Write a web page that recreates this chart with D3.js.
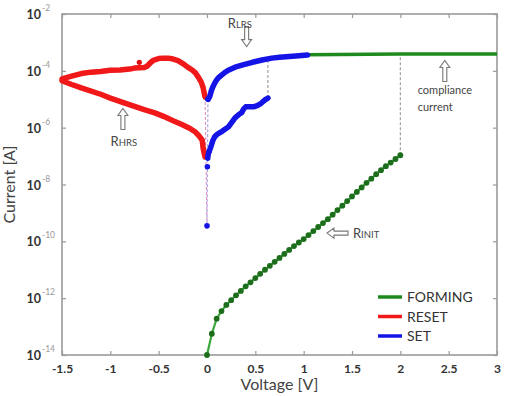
<!DOCTYPE html>
<html><head><meta charset="utf-8">
<script src="https://cdn.jsdelivr.net/npm/d3@7"></script>
<style>body{margin:0;background:#fff;} text{font-family:Lato,"Open Sans",sans-serif;}</style>
</head><body><svg id="c" width="506" height="396"></svg>
<script>
// ---- data ----
const formingV = [0,0.05,0.1,0.15,0.2,0.25,0.3,0.35,0.4,0.45,0.5,0.55,0.6,0.65,0.7,0.75,0.8,0.85,0.9,0.95,1.0,1.05,1.1,1.15,1.2,1.25,1.3,1.35,1.4,1.45,1.5,1.55,1.6,1.65,1.7,1.75,1.8,1.85,1.9,1.95,2.0];
const formingI = [1e-14,5.6e-14,1.9e-13,3.5e-13,5.8e-13,8.5e-13,1.26e-12,1.8e-12,2.6e-12,3.6e-12,5.1e-12,7.2e-12,1.0e-11,1.38e-11,1.9e-11,2.6e-11,3.6e-11,5.0e-11,6.8e-11,9.1e-11,1.2e-10,1.66e-10,2.3e-10,3.2e-10,4.4e-10,6.0e-10,8.7e-10,1.26e-9,1.8e-9,2.6e-9,3.8e-9,5.5e-9,7.9e-9,1.15e-8,1.6e-8,2.3e-8,3.2e-8,4.4e-8,5.9e-8,7.9e-8,1.07e-7];
const complianceV = [1.03, 2.0, 3.0];
const complianceI = [3.7e-4, 3.9e-4, 3.9e-4];

const resetV = [-0.02,-0.03,-0.04,-0.06,-0.09,-0.12,-0.15,-0.2,-0.25,-0.3,-0.35,-0.4,-0.45,-0.5,-0.55,-0.58,-0.62,-0.65,-0.7,-0.75,-0.8,-0.9,-1.0,-1.1,-1.2,-1.3,-1.4,-1.5,
                -1.5,-1.4,-1.3,-1.23,-1.1,-1.0,-0.88,-0.75,-0.65,-0.54,-0.45,-0.35,-0.26,-0.18,-0.12,-0.08,-0.05,-0.04,-0.03,-0.02];
const resetI = [1.2e-5,1.7e-5,2.6e-5,4.0e-5,6.0e-5,8.5e-5,1.05e-4,1.35e-4,1.8e-4,2.3e-4,2.6e-4,2.8e-4,2.8e-4,2.7e-4,2.4e-4,2.0e-4,1.45e-4,1.3e-4,1.28e-4,1.25e-4,1.15e-4,1.08e-4,1.05e-4,9.5e-5,9.0e-5,8.0e-5,6.5e-5,5.2e-5,
                4.5e-5,3.3e-5,2.5e-5,2.1e-5,1.5e-5,1.1e-5,7.9e-6,5.6e-6,4.3e-6,3.3e-6,2.5e-6,1.75e-6,1.3e-6,9.5e-7,7.0e-7,5.0e-7,3.7e-7,1.9e-7,1.3e-7,9.3e-8];
const resetSpikeV = [-0.7];
const resetSpikeI = [2.0e-4];

const setLowV = [0,0.004,0.008,0.012,0.02,0.03,0.045,0.06,0.08,0.1,0.13,0.16,0.19,0.22,0.26,0.29,0.33,0.36,0.38,0.4,0.44,0.48,0.52,0.56,0.6,0.63];
const setLowI = [3.5e-10,4.2e-8,8.5e-8,1.1e-7,1.4e-7,1.7e-7,2.4e-7,3.5e-7,4.8e-7,5.6e-7,6.6e-7,7.6e-7,9.0e-7,1.05e-6,1.6e-6,2.2e-6,2.9e-6,3.4e-6,4.6e-6,5.4e-6,5.5e-6,5.4e-6,6.0e-6,7.2e-6,9.5e-6,1.1e-5];
const setHighV = [1.04,0.95,0.85,0.75,0.67,0.57,0.47,0.38,0.29,0.22,0.18,0.15,0.12,0.1,0.08,0.06,0.045,0.03,0.02,0.01];
const setHighI = [3.6e-4,3.4e-4,3.2e-4,3.0e-4,2.8e-4,2.4e-4,2.0e-4,1.65e-4,1.35e-4,1.05e-4,8.5e-5,7.1e-5,5.8e-5,4.8e-5,3.7e-5,2.7e-5,2.0e-5,1.3e-5,1.1e-5,1.0e-5];

const xTicks = [-1.5,-1,-0.5,0,0.5,1,1.5,2,2.5,3];
const xTickLabels = ["-1.5","-1","-0.5","0","0.5","1","1.5","2","2.5","3"];
const yTicks = [1e-14,1e-12,1e-10,1e-8,1e-6,1e-4,1e-2];
const yTickExps = ["-14","-12","-10","-8","-6","-4","-2"];
const legendLabels = ["FORMING","RESET","SET"];
const legendColors = ["#1e8a1e","#f01818","#1414e6"];

// ---- layout ----
const svg = d3.select("#c");
const L = 62, R = 497, T = 14, B = 355;
const x = d3.scaleLinear().domain([-1.5, 3]).range([L, R]);
const y = d3.scaleLog().domain([1e-14, 1e-2]).range([B, T]);
const axisCol = "#9a9a9a";

// frame
svg.append("rect").attr("x", L).attr("y", T).attr("width", R - L).attr("height", B - T)
  .attr("fill", "none").attr("stroke", axisCol).attr("stroke-width", 1.6);

// ticks via d3 axes (inward)
const gb = svg.append("g").attr("transform", `translate(0,${B})`)
  .call(d3.axisBottom(x).tickValues(xTicks).tickSize(-4).tickFormat((d,i)=>xTickLabels[i]).tickPadding(9));
const gt = svg.append("g").attr("transform", `translate(0,${T})`)
  .call(d3.axisTop(x).tickValues(xTicks).tickSize(-4).tickFormat(""));
const gl = svg.append("g").attr("transform", `translate(${L},0)`)
  .call(d3.axisLeft(y).tickValues(yTicks).tickSize(-4).tickFormat(""));
const gr = svg.append("g").attr("transform", `translate(${R},0)`)
  .call(d3.axisRight(y).tickValues(yTicks).tickSize(-4).tickFormat(""));
[gb, gt, gl, gr].forEach(g => {
  g.select(".domain").remove();
  g.selectAll(".tick line").attr("stroke", axisCol).attr("stroke-width", 1.2);
});
gb.selectAll(".tick text").attr("font-family", "Lato").attr("font-weight", "bold")
  .attr("font-size", 12).attr("fill", "#333");

// y tick labels: 10 with superscript
const yl = svg.append("g");
yTicks.forEach((t, i) => {
  yl.append("text").attr("x", 41).attr("y", y(t) + 5).attr("text-anchor", "end")
    .attr("font-weight", "bold").attr("font-size", 12.5).attr("fill", "#333").text("10");
  yl.append("text").attr("x", 42).attr("y", y(t) - 3).attr("font-size", 8.5)
    .attr("fill", "#999").text(yTickExps[i]);
});

// axis titles
svg.append("text").attr("x", (L + R) / 2).attr("y", 390).attr("text-anchor", "middle")
  .attr("font-size", 16).attr("fill", "#444").text("Voltage [V]");
svg.append("text").attr("transform", `translate(15,${(T + B) / 2}) rotate(-90)`)
  .attr("text-anchor", "middle").attr("font-size", 16).attr("fill", "#444").text("Current [A]");

const line = d3.line().x(d => x(d[0])).y(d => y(d[1]));
const zip = (a, b) => a.map((v, i) => [v, b[i]]);

// dashed connectors
function dashed(p1, p2, col) {
  svg.append("path").attr("d", line([p1, p2])).attr("stroke", col).attr("stroke-width", 1.1)
    .attr("stroke-dasharray", "3,2").attr("fill", "none");
}
dashed([resetV[0], resetI[0]], [setLowV[0], setLowI[0]], "#e090c0");
dashed([setHighV[setHighV.length - 1], setHighI[setHighI.length - 1]], [setLowV[0], setLowI[0]], "#a8a0e0");
dashed([setLowV[setLowV.length - 1], setLowI[setLowI.length - 1]], [setLowV[setLowV.length - 1], 2.4e-4], "#999");
dashed([formingV[formingV.length - 1], formingI[formingI.length - 1]], [2.0, complianceI[1]], "#999");

// forming
const fData = zip(formingV, formingI);
svg.append("path").attr("d", line(zip(complianceV, complianceI))).attr("stroke", "#1e8a1e")
  .attr("stroke-width", 3.5).attr("fill", "none");
svg.append("path").attr("d", line(fData)).attr("stroke", "#3aa83a").attr("stroke-width", 2.2).attr("fill", "none");
svg.append("g").selectAll("circle").data(fData).join("circle")
  .attr("cx", d => x(d[0])).attr("cy", d => y(d[1])).attr("r", 2.9).attr("fill", "#1c6e1c");

// reset
const rData = zip(resetV, resetI);
svg.append("path").attr("d", line(rData)).attr("stroke", "#f01818").attr("stroke-width", 5.5)
  .attr("stroke-linejoin", "round").attr("stroke-linecap", "round").attr("fill", "none");
svg.append("g").selectAll("circle").data(zip(resetSpikeV, resetSpikeI)).join("circle")
  .attr("cx", d => x(d[0])).attr("cy", d => y(d[1])).attr("r", 2.6).attr("fill", "#e01010");

// set
const sLow = zip(setLowV, setLowI), sHigh = zip(setHighV, setHighI);
[sLow.slice(4), sHigh].forEach(dd => {
  svg.append("path").attr("d", line(dd)).attr("stroke", "#1414e6").attr("stroke-width", 5.5)
    .attr("stroke-linejoin", "round").attr("stroke-linecap", "round").attr("fill", "none");
});
svg.append("g").selectAll("circle").data(sLow.slice(0, 5).concat([sHigh[sHigh.length - 1]])).join("circle")
  .attr("cx", d => x(d[0])).attr("cy", d => y(d[1])).attr("r", 2.8).attr("fill", "#1414e6");

// annotations
const annCol = "#777";
function arrow(cx, cy, len, dir) { // hollow block arrow; dir: 'up','down','left'
  const hw = 2, hh = 5, hl = 7;
  let pts;
  if (dir === "down" || dir === "up") {
    const s = dir === "down" ? 1 : -1;
    const tip = cy + s * len / 2, tail = cy - s * len / 2, base = tip - s * hl;
    pts = [[cx - hw, tail], [cx + hw, tail], [cx + hw, base], [cx + hh, base], [cx, tip], [cx - hh, base], [cx - hw, base]];
  } else {
    const tip = cx - len / 2, tail = cx + len / 2, base = tip + hl;
    pts = [[tail, cy - hw], [tail, cy + hw], [base, cy + hw], [base, cy + hh], [tip, cy], [base, cy - hh], [base, cy - hw]];
  }
  svg.append("path").attr("d", "M" + pts.map(p => p.join(",")).join("L") + "Z")
    .attr("fill", "#fff").attr("stroke", annCol).attr("stroke-width", 1.1);
}
function rlabel(px, py, sub, anchor) {
  const t = svg.append("text").attr("x", px).attr("y", py).attr("fill", "#444")
    .attr("text-anchor", anchor || "start");
  t.append("tspan").attr("font-size", 13).text("R");
  t.append("tspan").attr("font-size", 9.5).text(sub);
}
arrow(x(0.41), y(1.6e-3), 20, "down");
rlabel(x(0.34), y(4.8e-3) + 5, "LRS", "middle");
arrow(x(-0.87), (y(4.9e-6) + y(8.3e-7)) / 2, 21, "up");
rlabel(x(-0.86), y(3.4e-7) + 5, "HRS", "middle");
arrow(x(2.46), (y(2.4e-4) + y(4.1e-5)) / 2, 21, "up");
svg.append("text").attr("x", x(2.18)).attr("y", y(2.1e-5) + 4).attr("font-size", 11).attr("fill", "#444").text("compliance");
svg.append("text").attr("x", x(2.18)).attr("y", y(5.4e-6) + 4).attr("font-size", 11).attr("fill", "#444").text("current");
arrow((x(1.24) + x(1.46)) / 2, y(1.95e-10), 21, "left");
rlabel(x(1.51), y(1.95e-10) + 5, "INIT", "start");

// legend
legendLabels.forEach((lab, i) => {
  const ly = 297 + i * 19.5;
  svg.append("line").attr("x1", 378).attr("x2", 402).attr("y1", ly).attr("y2", ly)
    .attr("stroke", legendColors[i]).attr("stroke-width", 3.5);
  svg.append("text").attr("x", 407).attr("y", ly + 5).attr("font-size", 14).attr("fill", "#333").text(lab);
});
</script></body></html>
